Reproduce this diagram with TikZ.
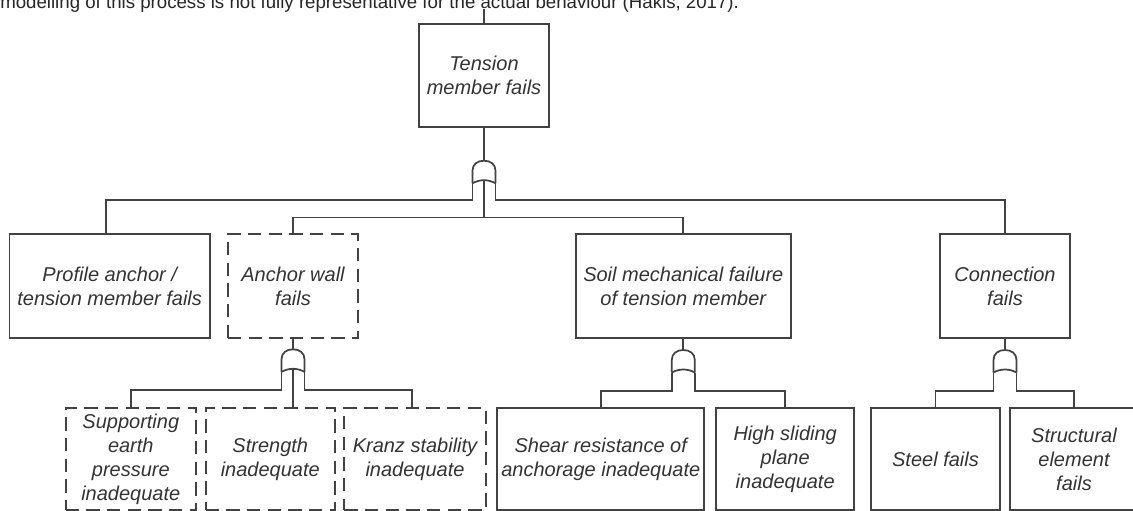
\documentclass[tikz,border=0pt]{standalone}
\usepackage{fontspec}
\setmainfont{Liberation Sans}
\usetikzlibrary{positioning}

\tikzset{
  wire/.style={draw=black!74, line width=1.3pt},
  event/.style={wire, rectangle, align=center, inner sep=1pt, text=black!80,
    font=\fontsize{15}{18}\selectfont\itshape},
  dashevent/.style={event, dash pattern=on 10pt off 5.5pt},
  orgate/.pic={
    \draw[wire] (-11.5,22.5) -- (-11.5,10) .. controls (-11.5,3.5) and (-6.5,0) .. (0,0)
      .. controls (6.5,0) and (11.5,3.5) .. (11.5,10) -- (11.5,22.5);
    \draw[wire] (-11.5,22.5) .. controls (-4,18.5) and (4,18.5) .. (11.5,22.5);
    \coordinate (-top) at (0,0);
    \coordinate (-l) at (-11.5,22.5);
    \coordinate (-r) at (11.5,22.5);
    \coordinate (-c) at (0,19.5);
  }
}

\begin{document}
\begin{tikzpicture}[x=0.75pt, y=-0.75pt]
	\useasboundingbox (0,0) rectangle (1133,511);
	\clip (0,0) rectangle (1133,511);
	\node[anchor=base west, inner sep=0pt, text=black!85, font=\fontsize{14}{17}\selectfont](caption) at (0,8){modelling of this process is not fully representative for the actual behaviour (Hakis, 2017).};
	% top event
	\node[event, minimum width=98pt, minimum height=77pt](tension) at (484,75.5){Tension\\member fails};
	% first level
	\node[event, minimum width=150.5pt, minimum height=78pt](profile) at (109.7,286){Profile anchor /\\tension member fails};
	\node[dashevent, minimum width=97.5pt, minimum height=78pt](anchorwall) at (293,286){Anchor wall\\fails};
	\node[event, minimum width=161pt, minimum height=78pt](soil) at (683.3,286){Soil mechanical failure\\of tension member};
	\node[event, minimum width=97.5pt, minimum height=78pt](connection) at (1005,286){Connection\\fails};
	% second level
	\node[dashevent, minimum width=97.7pt, minimum height=76.5pt](supporting) at (130.8,459){Supporting\\earth\\pressure\\inadequate};
	\node[dashevent, minimum width=97pt, minimum height=76.5pt](strength) at (270.3,459){Strength\\inadequate};
	\node[dashevent, minimum width=106pt, minimum height=76.5pt](kranz) at (415,459){Kranz stability\\inadequate};
	\node[event, minimum width=155.2pt, minimum height=76.5pt](shear) at (600.8,459){Shear resistance of\\anchorage inadequate};
	\node[event, minimum width=103.7pt, minimum height=76.5pt](sliding) at (785.2,459){High sliding\\plane\\inadequate};
	\node[event, minimum width=96.7pt, minimum height=76.5pt](steel) at (935.5,459){Steel fails};
	\node[event, minimum width=96pt, minimum height=76.5pt](structural) at (1074,459){Structural\\element\\fails};
	% gates
	\pic (g0) at (484,160.7) {orgate};
	\pic (g1) at (293,349.3) {orgate};
	\pic (g2) at (683.3,350) {orgate};
	\pic (g3) at (1005,350) {orgate};
	\coordinate (above) at (484,9);
	\coordinate (bus) at (484,217.5);
	% connectors
	\draw[wire] (above) -- (tension);
	\draw[wire] (tension) -- (g0-top);
	\draw[wire] (g0-l) -- ++(0,17) -| ([xshift=-3pt]profile.north);
	\draw[wire] (g0-r) -- ++(0,17) -| (connection.north);
	\draw[wire] (g0-c) -- (bus);
	\draw[wire] (anchorwall.north) |- (bus) -| (soil.north);
	\draw[wire] (anchorwall) -- (g1-top);
	\draw[wire] (g1-l) -- ++(0,18.5) -| (supporting.north);
	\draw[wire] (g1-r) -- ++(0,18.5) -| ([xshift=-2pt]kranz.north);
	\draw[wire] (g1-c) -- (g1-c |- strength.north);
	\draw[wire] (soil) -- (g2-top);
	\draw[wire] (g2-l) -- ++(0,18.5) -| (shear.north);
	\draw[wire] (g2-r) -- ++(0,18.5) -| (sliding.north);
	\draw[wire] (connection) -- (g3-top);
	\draw[wire] (g3-l) -- ++(0,18.5) -| (steel.north);
	\draw[wire] (g3-r) -- ++(0,18.5) -| (structural.north);
\end{tikzpicture}
\end{document}
